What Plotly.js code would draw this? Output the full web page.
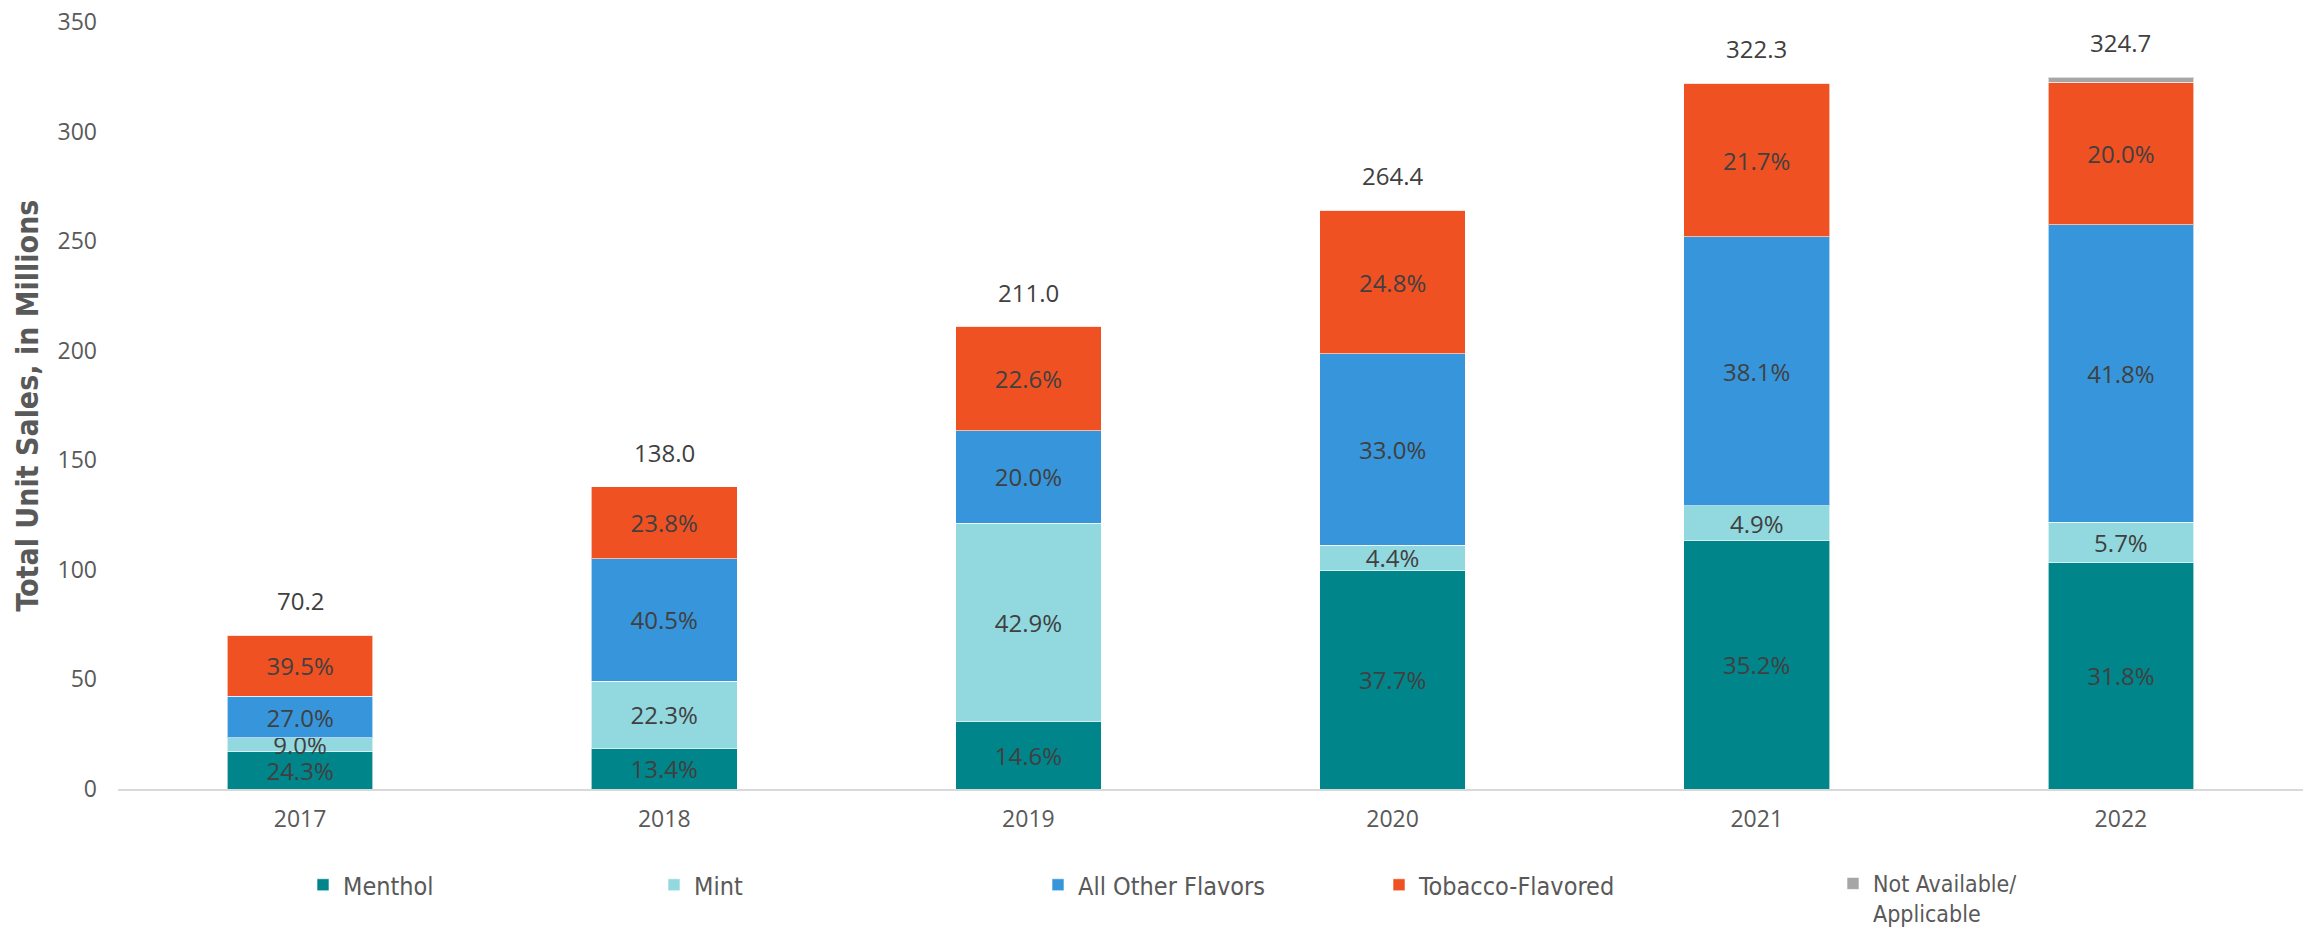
<!DOCTYPE html>
<html>
<head>
<meta charset="utf-8">
<script src="https://cdn.plot.ly/plotly-3.0.1.min.js"></script>
<style>html,body{margin:0;padding:0;background:#fff;}#chart{width:2305px;height:928px;}</style>
</head>
<body>
<div id="chart"></div>
<script>
// Data
const years = ['2017', '2018', '2019', '2020', '2021', '2022'];
const totals = [70.2, 138.0, 211.0, 264.4, 322.3, 324.7];          // total unit sales, millions
const mentholPct = [24.3, 13.4, 14.6, 37.7, 35.2, 31.8];
const mintPct = [9.0, 22.3, 42.9, 4.4, 4.9, 5.7];
const otherPct = [27.0, 40.5, 20.0, 33.0, 38.1, 41.8];
const tobaccoPct = [39.5, 23.8, 22.6, 24.8, 21.7, 20.0];
const naPct = [0.2, 0.0, 0.0, 0.1, 0.1, 0.7];
const seriesNames = ['Menthol', 'Mint', 'All Other Flavors', 'Tobacco-Flavored', 'Not Available/<br>Applicable'];
const seriesColors = ['#00858B', '#92D9DF', '#3796DB', '#F05123', '#A6A6A6'];
const yTicks = [0, 50, 100, 150, 200, 250, 300, 350];

const shares = [mentholPct, mintPct, otherPct, tobaccoPct, naPct];
const showPct = [true, true, true, true, false];
const legendIds = ['legend', 'legend2', 'legend3', 'legend4', 'legend5'];

const traces = shares.map((pcts, i) => ({
  type: 'bar',
  name: seriesNames[i],
  x: years,
  y: pcts.map((p, k) => totals[k] * p / 100),
  text: showPct[i] ? pcts.map(p => p.toFixed(1) + '%') : null,
  textposition: showPct[i] ? 'inside' : 'none',
  insidetextanchor: 'middle',
  constraintext: 'none',
  textangle: 0,
  cliponaxis: false,
  textfont: {family: 'Open Sans, Noto Sans, sans-serif', size: 24, color: '#404040'},
  marker: {color: seriesColors[i], line: {color: 'rgba(255,255,255,0.6)', width: 1}},
  legend: legendIds[i],
  hoverinfo: 'skip'
}));

const annotations = years.map((yr, k) => ({
  x: k, y: totals[k], xref: 'x', yref: 'y',
  text: totals[k].toFixed(1),
  showarrow: false, yanchor: 'bottom', yshift: 16,
  font: {family: 'Open Sans, Noto Sans, sans-serif', size: 24, color: '#404040'}
}));

const legendFontSizes = [25, 25, 25, 25, 23];
const legendTop = [862, 862, 862, 862, 862];
const legendTextStart = [343, 694, 1078, 1419, 1873];
const legends = {};
legendIds.forEach((id, i) => {
  legends[id] = {
    orientation: 'h', xref: 'container', yref: 'container',
    x: (legendTextStart[i] - 40) / 2305, xanchor: 'left',
    y: 1 - legendTop[i] / 928, yanchor: 'top',
    font: {family: 'Liberation Sans Narrow, DejaVu Sans Condensed, Arial Narrow, Open Sans, sans-serif', size: legendFontSizes[i], color: '#595959'},
    bgcolor: 'rgba(0,0,0,0)', valign: 'top',
    itemclick: false, tracegroupgap: 0
  };
});

const layout = Object.assign({
  width: 2305, height: 928,
  margin: {l: 118, r: 2, t: 22, b: 139},
  paper_bgcolor: '#ffffff', plot_bgcolor: '#ffffff',
  barmode: 'stack', bargap: 0.6,
  showlegend: true,
  xaxis: {
    type: 'category', range: [-0.5, 5.5], showgrid: false, zeroline: false,
    showline: true, linecolor: '#D9D9D9', linewidth: 2,
    ticks: '', ticklabelstandoff: 8,
    tickfont: {family: 'Open Sans, Noto Sans, sans-serif', size: 23, color: '#595959'}
  },
  yaxis: {
    range: [0, 350], tickvals: yTicks, showgrid: false, zeroline: false,
    showline: false, ticks: '', ticklabelstandoff: 20,
    tickfont: {family: 'Open Sans, Noto Sans, sans-serif', size: 23, color: '#595959'},
    title: {text: 'Total Unit Sales, in Millions', standoff: 10,
      font: {family: 'Liberation Sans Narrow, DejaVu Sans Condensed, Arial Narrow, Open Sans, sans-serif', size: 30, color: '#595959', weight: 'bold'}}
  },
  annotations: annotations
}, legends);

Plotly.newPlot('chart', traces, layout, {displayModeBar: false, staticPlot: true});
</script>
</body>
</html>
